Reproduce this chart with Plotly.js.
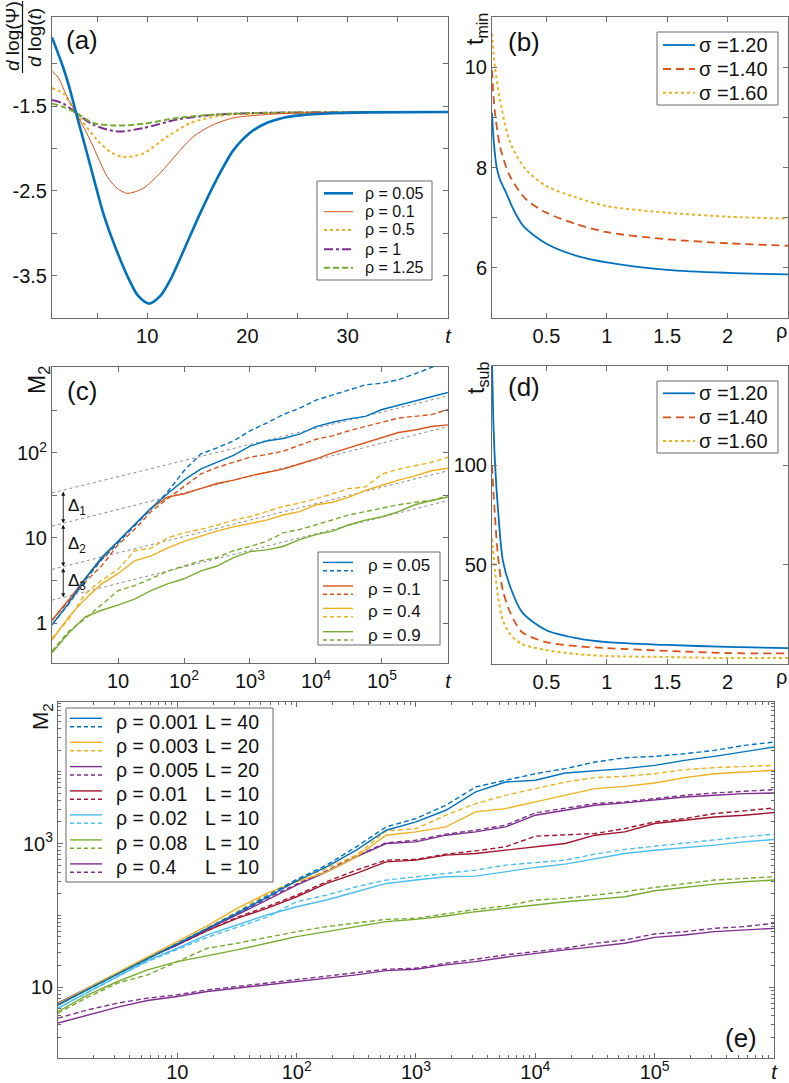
<!DOCTYPE html>
<html><head><meta charset="utf-8">
<script src="https://cdn.plot.ly/plotly-3.0.1.min.js"></script>
<style>html,body{margin:0;padding:0;background:#fff}#chart{width:789px;height:1083px}</style>
</head><body><div id="chart"></div>
<script>
// ---------------- DATA ----------------
// Panel (a): d log(Psi)/d log(t) vs t
const aLabels = ['\u03C1 = 0.05', '\u03C1 = 0.1', '\u03C1 = 0.5', '\u03C1 = 1', '\u03C1 = 1.25'];
const aRho005X = [0.5, 1.6, 2.3, 2.9, 4, 4.7, 5.6, 6.8, 8.2, 9.1, 10.2, 11.3, 12.3, 13.8, 15.3, 16.9, 18.6, 20.2, 21.9, 23.5, 25.2, 28.5, 32, 40];
const aRho005Y = [-0.69, -1.04, -1.31, -1.58, -2.06, -2.37, -2.76, -3.16, -3.55, -3.74, -3.83, -3.74, -3.55, -3.16, -2.76, -2.37, -2.02, -1.82, -1.70, -1.64, -1.61, -1.585, -1.575, -1.57];
const aRho01X = [0.5, 1.1, 2.0, 2.9, 4.3, 6, 7, 8.0, 9.6, 11.3, 13, 14.6, 16.6, 18.6, 21.9, 26, 40];
const aRho01Y = [-1.09, -1.16, -1.39, -1.58, -1.9, -2.33, -2.47, -2.53, -2.47, -2.29, -2.06, -1.86, -1.72, -1.64, -1.6, -1.58, -1.57];
const aRho05X = [0.5, 1.6, 2.9, 5, 6.3, 7.6, 9.6, 12, 14.3, 17, 20, 40];
const aRho05Y = [-1.29, -1.35, -1.58, -1.9, -2.04, -2.1, -2.06, -1.86, -1.7, -1.62, -1.59, -1.57];
const aRho1X = [0.5, 1.6, 2.9, 4.6, 7, 9.6, 13, 17, 22, 40];
const aRho1Y = [-1.43, -1.47, -1.58, -1.72, -1.8, -1.76, -1.66, -1.6, -1.58, -1.57];
const aRho125X = [0.5, 1.6, 2.9, 4.6, 7, 9.6, 13, 17, 22, 40];
const aRho125Y = [-1.47, -1.51, -1.58, -1.7, -1.73, -1.71, -1.64, -1.6, -1.58, -1.57];

// Panel (b): t_min vs rho
const sigmaLabels = ['\u03C3 =1.20', '\u03C3 =1.40', '\u03C3 =1.60'];
const bS12X = [0.05, 0.065, 0.089, 0.116, 0.17, 0.22, 0.31, 0.5, 0.75, 1, 1.5, 2, 2.5];
const bS12Y = [9.09, 8.5, 8.0, 7.76, 7.48, 7.2, 6.83, 6.48, 6.24, 6.11, 5.96, 5.9, 5.87];
const bS14X = [0.05, 0.06, 0.075, 0.116, 0.2, 0.33, 0.5, 0.75, 1, 1.5, 2, 2.5];
const bS14Y = [9.94, 9.5, 9.09, 8.42, 7.82, 7.37, 7.1, 6.87, 6.71, 6.57, 6.49, 6.44];
const bS16X = [0.05, 0.075, 0.116, 0.2, 0.33, 0.5, 0.75, 1, 1.5, 2, 2.5];
const bS16Y = [10.67, 10.0, 9.35, 8.5, 7.96, 7.63, 7.4, 7.23, 7.1, 7.02, 6.98];

// Panel (d): t_sub vs rho
const dS12X = [0.05, 0.06, 0.075, 0.1, 0.14, 0.2, 0.3, 0.5, 0.75, 1, 1.5, 2, 2.5];
const dS12Y = [152, 125, 101, 77.5, 52, 39, 26, 17, 13, 11, 9.6, 8.6, 8];
const dS14X = [0.05, 0.075, 0.1, 0.14, 0.2, 0.3, 0.5, 0.75, 1, 1.5, 2, 2.5];
const dS14Y = [100, 74, 54, 37, 26, 16, 11, 9, 8, 6.6, 5.5, 5.3];
const dS16X = [0.05, 0.075, 0.1, 0.14, 0.2, 0.3, 0.5, 0.75, 1, 1.5, 2, 2.5];
const dS16Y = [63, 47, 34, 22, 15, 10, 7, 5, 4, 3.5, 3, 3];

// Panels (c) and (e): time grid (t) and log10(M2) values
const tGrid = [1, 1.78, 3.16, 5.62, 10, 17.8, 31.6, 56.2, 100, 178, 316, 562, 1000, 1780, 3160, 5620, 1e4, 1.78e4, 3.16e4, 5.62e4, 1e5, 1.78e5, 3.16e5, 5.62e5, 1e6];

const cLabels = ['\u03C1 = 0.05', '\u03C1 = 0.1', '\u03C1 = 0.4', '\u03C1 = 0.9'];
const cLogRho005Solid = [-0.02, 0.23, 0.52, 0.77, 0.96, 1.155, 1.35, 1.52, 1.68, 1.81, 1.89, 1.97, 2.08, 2.14, 2.17, 2.22, 2.31, 2.36, 2.40, 2.43, 2.51, 2.56, 2.61, 2.66, 2.71];
const cLogRho005Dash  = [-0.02, 0.22, 0.5, 0.74, 0.94, 1.14, 1.33, 1.54, 1.79, 1.985, 2.06, 2.14, 2.26, 2.35, 2.45, 2.525, 2.62, 2.68, 2.74, 2.80, 2.82, 2.86, 2.93, 3.01, 3.08];
const cLogRho01Solid  = [0.035, 0.27, 0.52, 0.75, 0.96, 1.155, 1.35, 1.48, 1.52, 1.58, 1.64, 1.68, 1.73, 1.77, 1.81, 1.87, 1.93, 2.0, 2.06, 2.12, 2.18, 2.24, 2.27, 2.31, 2.33];
const cLogRho01Dash   = [0.03, 0.25, 0.48, 0.67, 0.92, 1.1, 1.31, 1.46, 1.6, 1.75, 1.83, 1.89, 1.95, 1.98, 2.02, 2.09, 2.16, 2.2, 2.26, 2.31, 2.36, 2.41, 2.43, 2.45, 2.51];
const cLogRho04Solid  = [-0.2, 0.07, 0.28, 0.46, 0.58, 0.73, 0.79, 0.88, 0.96, 1.02, 1.08, 1.13, 1.17, 1.21, 1.27, 1.31, 1.39, 1.42, 1.48, 1.56, 1.62, 1.68, 1.73, 1.79, 1.82];
const cLogRho04Dash   = [-0.18, 0.04, 0.34, 0.5, 0.63, 0.85, 0.88, 1.0, 1.06, 1.1, 1.15, 1.21, 1.25, 1.31, 1.37, 1.41, 1.46, 1.52, 1.58, 1.6, 1.75, 1.81, 1.85, 1.89, 1.95];
const cLogRho09Solid  = [-0.35, -0.12, 0.07, 0.15, 0.21, 0.28, 0.38, 0.46, 0.52, 0.61, 0.67, 0.77, 0.84, 0.86, 0.90, 0.98, 1.04, 1.08, 1.155, 1.21, 1.25, 1.31, 1.39, 1.44, 1.48];
const cLogRho09Dash   = [-0.33, -0.1, 0.05, 0.21, 0.38, 0.44, 0.52, 0.61, 0.67, 0.73, 0.77, 0.85, 0.9, 0.96, 1.06, 1.1, 1.155, 1.21, 1.27, 1.31, 1.35, 1.39, 1.42, 1.44, 1.5];
// grey dotted guide lines (values at t = 1 and t = 1e6)
const cGuideT = [1, 1e6];
const cGuide1 = [33.9, 468];
const cGuide2 = [13.8, 204];
const cGuide3 = [4.27, 61.7];
const cGuide4 = [1.86, 27.5];
const cDeltaT = 1.48;
const cDeltaLabels = ['\u0394<sub>1</sub>', '\u0394<sub>2</sub>', '\u0394<sub>3</sub>'];

const eRhoLabels = ['\u03C1 = 0.001', '\u03C1 = 0.003', '\u03C1 = 0.005', '\u03C1 = 0.01', '\u03C1 = 0.02', '\u03C1 = 0.08', '\u03C1 = 0.4'];
const eLLabels = ['L = 40', 'L = 20', 'L = 20', 'L = 10', 'L = 10', 'L = 10', 'L = 10'];
const eLog0001Solid = [0.755, 0.963, 1.181, 1.394, 1.602, 1.819, 2.028, 2.250, 2.481, 2.676, 2.907, 3.185, 3.301, 3.463, 3.718, 3.856, 3.880, 3.981, 4.009, 4.042, 4.088, 4.157, 4.213, 4.273, 4.343];
const eLog0001Dash  = [0.755, 0.963, 1.181, 1.394, 1.602, 1.819, 2.037, 2.269, 2.5, 2.699, 2.954, 3.231, 3.347, 3.532, 3.787, 3.88, 3.972, 4.042, 4.134, 4.194, 4.213, 4.25, 4.296, 4.366, 4.412];
const eLog0003Solid = [0.769, 0.986, 1.204, 1.426, 1.634, 1.852, 2.097, 2.306, 2.468, 2.606, 2.815, 3.116, 3.162, 3.231, 3.44, 3.486, 3.579, 3.671, 3.764, 3.796, 3.843, 3.917, 3.972, 3.995, 4.019];
const eLog0003Dash  = [0.769, 0.986, 1.204, 1.417, 1.611, 1.819, 2.051, 2.296, 2.491, 2.653, 2.838, 3.176, 3.208, 3.394, 3.556, 3.671, 3.764, 3.856, 3.917, 3.935, 3.972, 4.028, 4.056, 4.074, 4.088];
const eLog0005Solid = [0.778, 0.986, 1.194, 1.403, 1.588, 1.806, 2.005, 2.213, 2.421, 2.606, 2.815, 3.0, 3.023, 3.116, 3.162, 3.231, 3.394, 3.463, 3.532, 3.565, 3.602, 3.648, 3.671, 3.694, 3.704];
const eLog0005Dash  = [0.778, 0.986, 1.194, 1.403, 1.588, 1.819, 2.019, 2.236, 2.435, 2.62, 2.829, 3.009, 3.046, 3.13, 3.185, 3.255, 3.426, 3.486, 3.556, 3.579, 3.625, 3.671, 3.704, 3.731, 3.75];
const eLog001Solid  = [0.755, 0.972, 1.194, 1.412, 1.588, 1.787, 1.958, 2.097, 2.259, 2.444, 2.583, 2.745, 2.769, 2.838, 2.861, 2.907, 2.954, 3.0, 3.116, 3.162, 3.278, 3.324, 3.37, 3.394, 3.431];
const eLog001Dash   = [0.755, 0.972, 1.194, 1.412, 1.588, 1.787, 1.972, 2.12, 2.282, 2.468, 2.63, 2.769, 2.778, 2.852, 2.898, 2.954, 3.102, 3.116, 3.139, 3.208, 3.301, 3.347, 3.417, 3.454, 3.495];
const eLog002Solid  = [0.708, 0.931, 1.157, 1.370, 1.542, 1.727, 1.866, 2.005, 2.12, 2.213, 2.329, 2.444, 2.491, 2.537, 2.546, 2.606, 2.667, 2.713, 2.792, 2.861, 2.907, 2.94, 2.977, 3.023, 3.056];
const eLog002Dash   = [0.708, 0.931, 1.148, 1.356, 1.528, 1.694, 1.833, 1.972, 2.19, 2.282, 2.398, 2.491, 2.537, 2.583, 2.63, 2.699, 2.731, 2.769, 2.852, 2.917, 2.963, 3.009, 3.056, 3.093, 3.13];
const eLog008Solid  = [0.662, 0.894, 1.079, 1.241, 1.356, 1.435, 1.519, 1.611, 1.704, 1.773, 1.843, 1.912, 1.944, 1.991, 2.051, 2.097, 2.144, 2.19, 2.222, 2.259, 2.343, 2.389, 2.435, 2.468, 2.491];
const eLog008Dash   = [0.639, 0.861, 1.056, 1.171, 1.356, 1.542, 1.611, 1.694, 1.773, 1.843, 1.898, 1.944, 1.958, 2.019, 2.083, 2.13, 2.213, 2.236, 2.282, 2.329, 2.389, 2.435, 2.491, 2.514, 2.537];
const eLog04Solid   = [0.5, 0.616, 0.722, 0.815, 0.870, 0.940, 0.986, 1.032, 1.079, 1.125, 1.171, 1.231, 1.25, 1.31, 1.356, 1.417, 1.472, 1.519, 1.565, 1.611, 1.694, 1.727, 1.773, 1.796, 1.819];
const eLog04Dash    = [0.569, 0.685, 0.778, 0.847, 0.894, 0.963, 1.009, 1.056, 1.102, 1.148, 1.194, 1.25, 1.264, 1.333, 1.389, 1.449, 1.495, 1.542, 1.611, 1.657, 1.741, 1.773, 1.819, 1.843, 1.889];

// ---------------- STYLE / LAYOUT ----------------
const W = 789, H = 1083;
const px = v => v / W, py = v => 1 - v / H;
const FONT = 'Liberation Sans, Arial, Helvetica, sans-serif';
const AX = '#6b6b6b';
const C = {blue:'#0072BD', orange:'#D95319', yellow:'#EDB120', purple:'#7E2F8E', green:'#77AC30', red:'#A2142F', cyan:'#4DBEEE', grey:'#8c8c8c'};
const toM = arr => arr.map(v => Math.pow(10, v));

const traces = [];
function addLine(x, y, xa, ya, color, width, dash, shape) {
  traces.push({x, y, xaxis: xa, yaxis: ya, type: 'scatter', mode: 'lines', showlegend: false, hoverinfo: 'skip',
    line: {color, width, dash: dash || 'solid', shape: shape || 'linear', smoothing: 0.8}});
}

// (a)
addLine(aRho05X, aRho05Y, 'x', 'y', C.yellow, 2, 'dot', 'spline');
addLine(aRho1X, aRho1Y, 'x', 'y', C.purple, 2, 'dashdot', 'spline');
addLine(aRho125X, aRho125Y, 'x', 'y', C.green, 2, '6px,3px', 'spline');
addLine(aRho01X, aRho01Y, 'x', 'y', C.orange, 1, 'solid', 'spline');
addLine(aRho005X, aRho005Y, 'x', 'y', C.blue, 2.6, 'solid', 'spline');
// (b)
addLine(bS16X, bS16Y, 'x2', 'y2', C.yellow, 2, 'dot', 'spline');
addLine(bS14X, bS14Y, 'x2', 'y2', C.orange, 1.8, '8px,5px', 'spline');
addLine(bS12X, bS12Y, 'x2', 'y2', C.blue, 1.8, 'solid', 'spline');
// (d)
addLine(dS16X, dS16Y, 'x4', 'y4', C.yellow, 2, 'dot', 'spline');
addLine(dS14X, dS14Y, 'x4', 'y4', C.orange, 1.8, '8px,5px', 'spline');
addLine(dS12X, dS12Y, 'x4', 'y4', C.blue, 1.8, 'solid', 'spline');
// (c)
[cGuide1, cGuide2, cGuide3, cGuide4].forEach(g => addLine(cGuideT, g, 'x3', 'y3', C.grey, 1, '3px,3px'));
const cSeries = [
  [cLogRho09Solid, cLogRho09Dash, C.green],
  [cLogRho04Solid, cLogRho04Dash, C.yellow],
  [cLogRho01Solid, cLogRho01Dash, C.orange],
  [cLogRho005Solid, cLogRho005Dash, C.blue]];
cSeries.forEach(s => { addLine(tGrid, toM(s[0]), 'x3', 'y3', s[2], 1.4); addLine(tGrid, toM(s[1]), 'x3', 'y3', s[2], 1.4, '5px,3px'); });
// (e)
const eSeries = [
  [eLog0001Solid, eLog0001Dash, C.blue],
  [eLog0003Solid, eLog0003Dash, C.yellow],
  [eLog0005Solid, eLog0005Dash, C.purple],
  [eLog001Solid, eLog001Dash, C.red],
  [eLog002Solid, eLog002Dash, C.cyan],
  [eLog008Solid, eLog008Dash, C.green],
  [eLog04Solid, eLog04Dash, C.purple]];
eSeries.slice().reverse().forEach(s => { addLine(tGrid, toM(s[0]), 'x5', 'y5', s[2], 1.4); addLine(tGrid, toM(s[1]), 'x5', 'y5', s[2], 1.4, '5px,3px'); });

function axis(domain, anchor, extra) {
  return Object.assign({domain, anchor, showline: true, mirror: 'allticks', linecolor: AX, linewidth: 1,
    ticks: 'inside', ticklen: 5, tickcolor: AX, showgrid: false, zeroline: false, fixedrange: true,
    tickfont: {family: FONT, size: 20, color: '#111'}}, extra);
}
function logMinor(d0, d1) { const v = []; for (let d = d0; d <= d1; d++) for (let m = 2; m <= 9; m++) v.push(m * Math.pow(10, d)); return v; }
const minorAt = (vals, len) => ({tickmode: 'array', tickvals: vals, ticks: 'inside', ticklen: len || 5, tickcolor: AX, showgrid: false});
const sup = n => '10<sup>' + n + '</sup>';

const layout = {
  width: W, height: H, margin: {l: 0, r: 0, t: 0, b: 0}, paper_bgcolor: '#fff', plot_bgcolor: '#fff',
  font: {family: FONT, color: '#111'}, showlegend: false,
  xaxis: axis([px(52), px(448)], 'y', {range: [0.5, 40.001], tickmode: 'array', tickvals: [10, 20, 30, 40], ticktext: ['10', '20', '30', '<i>t</i>'], minor: minorAt([5, 15, 25, 35])}),
  yaxis: axis([py(318), py(17)], 'x', {range: [-4, -0.45], tickmode: 'array', tickvals: [-3.5, -2.5, -1.5], ticktext: ['-3.5', '-2.5', '-1.5'], minor: minorAt([-3, -2, -1])}),
  xaxis2: axis([px(492), px(788)], 'y2', {range: [0.05, 2.5], tickmode: 'array', tickvals: [0.5, 1, 1.5, 2], ticktext: ['0.5', '1', '1.5', '2']}),
  yaxis2: axis([py(318), py(17)], 'x2', {range: [5, 11], tickmode: 'array', tickvals: [6, 8, 10], ticktext: ['6', '8', '10'], minor: minorAt([7, 9])}),
  xaxis3: axis([px(52), px(448)], 'y3', {type: 'log', range: [0, 6.0002], tickmode: 'array', tickvals: [10, 100, 1e3, 1e4, 1e5, 1e6], ticktext: ['10', sup(2), sup(3), sup(4), sup(5), '<i>t</i>']}),
  yaxis3: axis([py(663), py(367)], 'x3', {type: 'log', range: [-0.47, 3.01], tickmode: 'array', tickvals: [1, 10, 100], ticktext: ['1', '10', sup(2)], minor: minorAt([3.162, 31.62, 316.2, 1000])}),
  xaxis4: axis([px(492), px(788)], 'y4', {range: [0.05, 2.5], tickmode: 'array', tickvals: [0.5, 1, 1.5, 2], ticktext: ['0.5', '1', '1.5', '2']}),
  yaxis4: axis([py(664), py(366)], 'x4', {range: [0, 150], tickmode: 'array', tickvals: [50, 100], ticktext: ['50', '100']}),
  xaxis5: axis([px(58), px(774)], 'y5', {type: 'log', range: [0, 6.0002], tickmode: 'array', tickvals: [10, 100, 1e3, 1e4, 1e5, 1e6], ticktext: ['10', sup(2), sup(3), sup(4), sup(5), '<i>t</i>'], ticklabelstandoff: -4, minor: minorAt(logMinor(0, 5), 3)}),
  yaxis5: axis([py(1058), py(702)], 'x5', {type: 'log', range: [0.014, 4.97], tickmode: 'array', tickvals: [10, 1e3], ticktext: ['10', sup(3)], minor: minorAt(logMinor(0, 4).concat([100, 1e4]), 3)}),
  shapes: [], annotations: []
};

const shapes = layout.shapes, ann = layout.annotations;
function text(t, x, y, size, opts) {
  ann.push(Object.assign({text: t, x: px(x), y: py(y), xref: 'paper', yref: 'paper', showarrow: false,
    xanchor: 'left', yanchor: 'middle', font: {family: FONT, size, color: '#111'}}, opts || {}));
}
function box(x0, y0, x1, y1) {
  shapes.push({type: 'rect', xref: 'paper', yref: 'paper', x0: px(x0), x1: px(x1), y0: py(y1), y1: py(y0),
    fillcolor: '#fff', line: {color: AX, width: 1}, layer: 'above'});
}
function seg(x0, x1, y, color, width, dash) {
  shapes.push({type: 'line', xref: 'paper', yref: 'paper', x0: px(x0), x1: px(x1), y0: py(y), y1: py(y),
    line: {color, width, dash}, layer: 'above'});
}

// Last x-axis label of (b) and (d): the variable name rho at the right end of the axis
text('\u03C1', 781, 331, 20, {xanchor: 'center'});
text('\u03C1', 781, 677, 20, {xanchor: 'center'});

// Legend (a)
box(317, 181, 432, 280);
const aStyles = [[C.blue, 2.6, 'solid'], [C.orange, 1, 'solid'], [C.yellow, 2, 'dot'], [C.purple, 2, 'dashdot'], [C.green, 2, '6px,3px']];
[193.3, 211.7, 230, 249.3, 267.7].forEach((y, i) => { seg(324, 353, y, aStyles[i][0], aStyles[i][1], aStyles[i][2]); text(aLabels[i], 363, y, 16); });
// Legend (b) and (d)
const sStyles = [[C.blue, 1.8, 'solid'], [C.orange, 1.8, '8px,5px'], [C.yellow, 2, 'dot']];
box(657, 32, 778, 105);
[45, 69, 92.7].forEach((y, i) => { seg(663, 695, y, sStyles[i][0], sStyles[i][1], sStyles[i][2]); text(sigmaLabels[i], 697, y, 20); });
box(657, 381, 778, 453);
[393.3, 417.3, 441].forEach((y, i) => { seg(663, 695, y, sStyles[i][0], sStyles[i][1], sStyles[i][2]); text(sigmaLabels[i], 697, y, 20); });
// Legend (c)
const cCols = [C.blue, C.orange, C.yellow, C.green];
box(318, 552, 440, 645);
[565.7, 589.3, 611.7, 635].forEach((y, i) => { seg(323, 353, y - 3.3, cCols[i], 1.4, 'solid'); seg(323, 353, y + 5, cCols[i], 1.4, '4px,3px'); text(cLabels[i], 366, y, 17); });
// Legend (e)
box(66, 708, 273, 882);
const eCols = [C.blue, C.yellow, C.purple, C.red, C.cyan, C.green, C.purple];
[721.7, 745.7, 770, 794.3, 818.3, 843.3, 867.3].forEach((y, i) => {
  seg(70, 102, y - 3.4, eCols[i], 1.4, 'solid'); seg(70, 102, y + 5, eCols[i], 1.4, '4px,3px');
  text(eRhoLabels[i], 114, y, 19.5); text(eLLabels[i], 203, y, 19.5);
});

// Panel labels
text('(a)', 82, 40, 26, {xanchor: 'center'});
text('(b)', 524, 42, 26, {xanchor: 'center'});
text('(c)', 82, 391, 26, {xanchor: 'center'});
text('(d)', 524, 387, 26, {xanchor: 'center'});
text('(e)', 741, 1038, 26, {xanchor: 'center'});

// Axis titles
text('<i>d</i> log(\u03A8)', 12, 36, 19, {xanchor: 'center', textangle: -90});
text('<i>d</i> log(<i>t</i>)', 34, 38, 19, {xanchor: 'center', textangle: -90});
shapes.push({type: 'line', xref: 'paper', yref: 'paper', x0: px(22.5), x1: px(22.5), y0: py(1), y1: py(73), line: {color: '#111', width: 1.2}});
text('t<sub>min</sub>', 477, 29, 23, {xanchor: 'center', textangle: -90});
text('t<sub>sub</sub>', 477, 378, 23, {xanchor: 'center', textangle: -90});
text('M<sub>2</sub>', 38, 380, 23, {xanchor: 'center', textangle: -90});
text('M<sub>2</sub>', 42, 717, 22, {xanchor: 'center', textangle: -90});

// Delta arrows in (c), from the guide lines evaluated at t = cDeltaT (straight lines in log-log)
const guideAt = g => { const f = Math.log10(cDeltaT) / Math.log10(cGuideT[1] / cGuideT[0]); return Math.log10(g[0]) + (Math.log10(g[1]) - Math.log10(g[0])) * f; };
const lv = [cGuide1, cGuide2, cGuide3, cGuide4].map(guideAt);
const lx = Math.log10(cDeltaT);
for (let i = 0; i < 3; i++) {
  ann.push({xref: 'x3', yref: 'y3', axref: 'x3', ayref: 'y3', x: lx, y: lv[i + 1], ax: lx, ay: lv[i], text: '',
    showarrow: true, arrowhead: 2, startarrowhead: 2, arrowside: 'end+start', arrowsize: 0.9, startarrowsize: 0.9, arrowwidth: 0.9, arrowcolor: '#111'});
  ann.push({xref: 'x3', yref: 'y3', x: lx + 0.045, y: (lv[i] + lv[i + 1]) / 2, text: cDeltaLabels[i], showarrow: false,
    xanchor: 'left', yanchor: 'middle', font: {family: FONT, size: 17, color: '#111'}});
}

Plotly.newPlot('chart', traces, layout, {staticPlot: true, displayModeBar: false});
</script></body></html>
